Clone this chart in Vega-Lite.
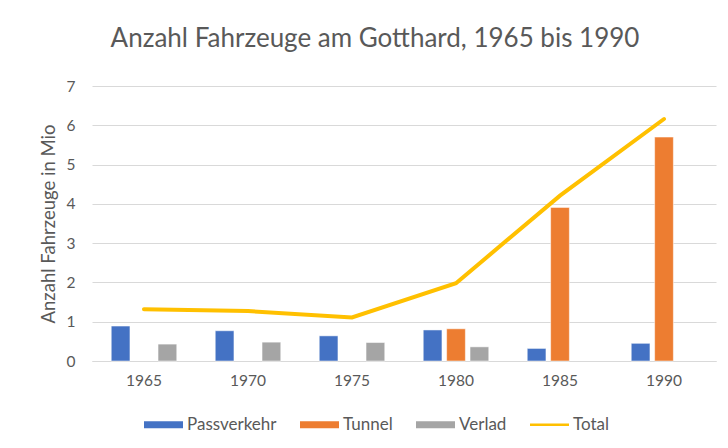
{
  "$schema": "https://vega.github.io/schema/vega-lite/v6.json",
  "width": 624,
  "height": 275,
  "autosize": {"type": "none"},
  "padding": {"left": 92, "top": 86, "right": 12, "bottom": 87},
  "background": "white",
  "config": {
    "font": "Lato",
    "view": {"stroke": null},
    "axis": {"labelColor": "#595959", "titleColor": "#595959", "labelFont": "Lato", "titleFont": "Lato"}
  },
  "title": {
    "text": "Anzahl Fahrzeuge am Gotthard, 1965 bis 1990",
    "fontSize": 26,
    "fontWeight": "normal",
    "color": "#595959",
    "anchor": "middle",
    "offset": 27,
    "dx": -29
  },
  "data": {
    "values": [
      {"year": "1965", "series": "Passverkehr", "value": 0.89},
      {"year": "1965", "series": "Verlad", "value": 0.43},
      {"year": "1965", "series": "Total", "value": 1.32},
      {"year": "1970", "series": "Passverkehr", "value": 0.77},
      {"year": "1970", "series": "Verlad", "value": 0.48},
      {"year": "1970", "series": "Total", "value": 1.27},
      {"year": "1975", "series": "Passverkehr", "value": 0.64},
      {"year": "1975", "series": "Verlad", "value": 0.47},
      {"year": "1975", "series": "Total", "value": 1.11},
      {"year": "1980", "series": "Passverkehr", "value": 0.79},
      {"year": "1980", "series": "Tunnel", "value": 0.82},
      {"year": "1980", "series": "Verlad", "value": 0.36},
      {"year": "1980", "series": "Total", "value": 1.98},
      {"year": "1985", "series": "Passverkehr", "value": 0.32},
      {"year": "1985", "series": "Tunnel", "value": 3.91},
      {"year": "1985", "series": "Total", "value": 4.21},
      {"year": "1990", "series": "Passverkehr", "value": 0.45},
      {"year": "1990", "series": "Tunnel", "value": 5.7},
      {"year": "1990", "series": "Total", "value": 6.16}
    ]
  },
  "encoding": {
    "x": {
      "field": "year",
      "type": "nominal",
      "scale": {"paddingInner": 0.37, "paddingOuter": 0.185},
      "axis": {
        "title": null,
        "labelAngle": 0,
        "labelFontSize": 15.5,
        "labelPadding": 12,
        "ticks": false,
        "domainColor": "#D9D9D9",
        "domainWidth": 1
      }
    },
    "y": {
      "field": "value",
      "type": "quantitative",
      "scale": {"domain": [0, 7], "nice": false},
      "axis": {
        "title": "Anzahl Fahrzeuge in Mio",
        "titleFontSize": 18.5,
        "titleFontWeight": "normal",
        "titlePadding": 8,
        "labelFontSize": 15.5,
        "labelPadding": 17,
        "labelOverlap": false,
        "values": [0, 1, 2, 3, 4, 5, 6, 7],
        "ticks": false,
        "domain": false,
        "gridColor": "#D9D9D9",
        "gridWidth": 1
      }
    },
    "color": {
      "field": "series",
      "type": "nominal",
      "scale": {
        "domain": ["Passverkehr", "Tunnel", "Verlad", "Total"],
        "range": ["#4472C4", "#ED7D31", "#A5A5A5", "#FFC000"]
      },
      "legend": {
        "title": null,
        "orient": "none",
        "direction": "horizontal",
        "columns": 4,
        "legendX": 52,
        "legendY": 319,
        "padding": 0,
        "labelFont": "Lato",
        "labelFontSize": 17,
        "labelColor": "#595959",
        "labelOffset": 4,
        "columnPadding": 23,
        "symbolSize": 1521,
        "symbolStrokeWidth": 0,
        "symbolOpacity": 1,
        "symbolType": "M-1,-0.18H1V0.18H-1Z",
        "encode": {
          "symbols": {
            "update": {
              "shape": {"signal": "datum.value === 'Total' ? 'M-1,-0.07H1V0.07H-1Z' : 'M-1,-0.18H1V0.18H-1Z'"}
            }
          }
        }
      }
    }
  },
  "layer": [
    {
      "transform": [{"filter": "datum.series !== 'Total'"}],
      "mark": {"type": "bar", "stroke": "white", "strokeWidth": 0.5},
      "encoding": {
        "xOffset": {
          "field": "series",
          "type": "nominal",
          "scale": {"domain": ["Passverkehr", "Tunnel", "Verlad"], "paddingInner": 0.2}
        }
      }
    },
    {
      "transform": [{"filter": "datum.series === 'Total'"}],
      "mark": {"type": "line", "strokeWidth": 4, "strokeCap": "round"},
      "encoding": {}
    }
  ]
}
